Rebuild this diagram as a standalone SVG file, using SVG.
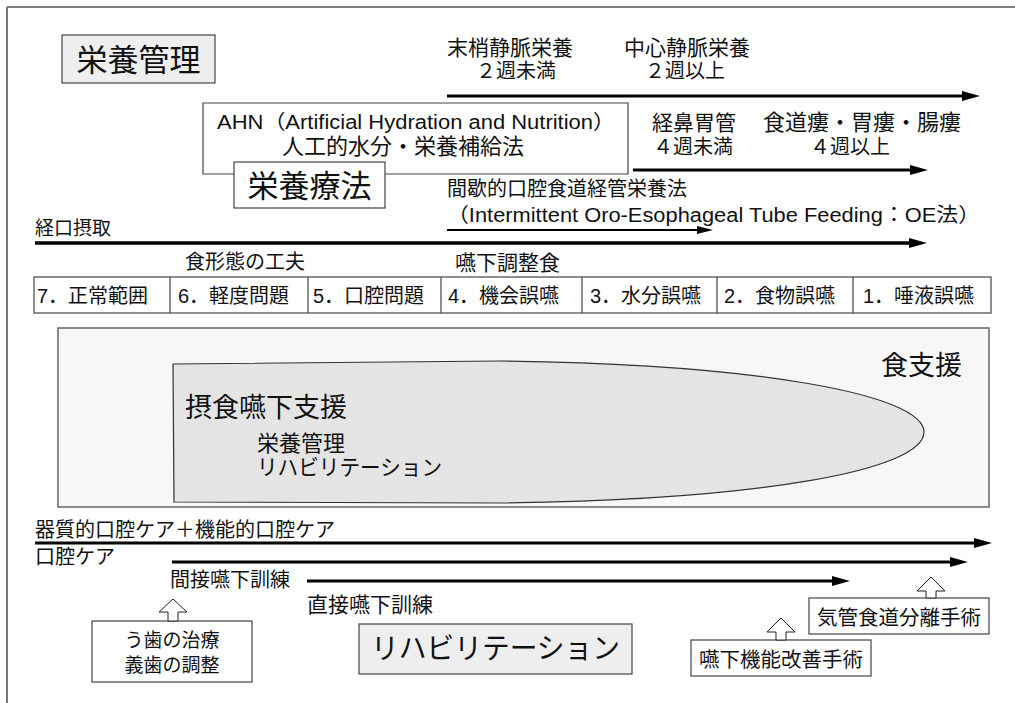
<svg xmlns="http://www.w3.org/2000/svg" width="1015" height="703" viewBox="0 0 1015 703">
<style>
text{font-family:"Liberation Sans","Noto Sans CJK JP",sans-serif;fill:#111;dominant-baseline:central}
.s20{font-size:20px}
.s21{font-size:21px}
.s22{font-size:22px}
.big{font-size:31px}
.mid{font-size:27px}
.box{fill:#fff;stroke:#444;stroke-width:1.2}
.gbox{fill:#eeeeee;stroke:#444;stroke-width:1.2}
.ln{stroke:#000;stroke-width:3;fill:none}
.ln2{stroke:#000;stroke-width:2;fill:none}
.up{fill:#fff;stroke:#222;stroke-width:1}
.mid-a{text-anchor:middle}
</style>
<defs>
<marker id="ah" markerUnits="userSpaceOnUse" markerWidth="18" markerHeight="10" viewBox="0 0 18 10" refX="8" refY="5" orient="auto">
<path d="M0,0 L18,5 L0,10 Z" fill="#000"/>
</marker>
<marker id="ah2" markerUnits="userSpaceOnUse" markerWidth="16" markerHeight="8" viewBox="0 0 16 8" refX="7" refY="4" orient="auto">
<path d="M0,0 L16,4 L0,8 Z" fill="#000"/>
</marker>
</defs>
<rect width="1015" height="703" fill="#fff"/>
<!-- frame -->
<g id="frame">
<line x1="7" y1="7" x2="1015" y2="7" stroke="#000" stroke-width="1"/>
<line x1="7" y1="7" x2="7" y2="703" stroke="#777" stroke-width="2"/>
</g>

<g id="n-eiyoukanri">
<rect x="62" y="35" width="153" height="48" class="gbox"/>
<text x="138.5" y="60" class="big mid-a">栄養管理</text>
</g>

<g id="n-parenteral">
<text x="447" y="47" class="s21">末梢静脈栄養</text>
<text x="516" y="71" class="s20 mid-a">２週未満</text>
<text x="624" y="47" class="s21">中心静脈栄養</text>
<text x="685" y="71" class="s20 mid-a">２週以上</text>
</g>

<g id="n-ahn">
<path d="M234,174 L203,174 L203,103 L628,103 L628,174 L385,174" fill="#fff" stroke="#444" stroke-width="1.2"/>
<text x="217" y="122" class="s20" textLength="398" lengthAdjust="spacingAndGlyphs">AHN（Artificial Hydration and Nutrition）</text>
<text x="403" y="146" class="s22 mid-a">人工的水分・栄養補給法</text>
</g>

<g id="n-enteral">
<text x="652" y="122" class="s21">経鼻胃管</text>
<text x="693" y="147" class="s20 mid-a">４週未満</text>
<text x="763" y="122" class="s22">食道瘻・胃瘻・腸瘻</text>
<text x="850" y="147" class="s20 mid-a">４週以上</text>
</g>

<g id="n-eiyouryouhou">
<rect x="234" y="162" width="151" height="46" class="box"/>
<text x="309.5" y="186" class="big mid-a">栄養療法</text>
</g>

<g id="n-oe">
<text x="447" y="189" class="s20">間歇的口腔食道経管栄養法</text>
<text x="447" y="215" class="s20" textLength="533" lengthAdjust="spacingAndGlyphs">（Intermittent Oro-Esophageal Tube Feeding：OE法）</text>
</g>

<g id="n-keikou">
<text x="35" y="228" style="font-size:19px">経口摂取</text>
</g>

<g id="n-shokukeitai">
<text x="185" y="262" class="s20">食形態の工夫</text>
<text x="455" y="262" class="s21">嚥下調整食</text>
</g>

<g id="n-table">
<rect x="34" y="277" width="957" height="36" fill="#fff" stroke="#444" stroke-width="1.2"/>
<g stroke="#444" stroke-width="1.2">
<line x1="170" y1="277" x2="170" y2="313"/>
<line x1="308" y1="277" x2="308" y2="313"/>
<line x1="441" y1="277" x2="441" y2="313"/>
<line x1="582" y1="277" x2="582" y2="313"/>
<line x1="717" y1="277" x2="717" y2="313"/>
<line x1="853" y1="277" x2="853" y2="313"/>
</g>
<text x="37" y="296" class="s20">7．正常範囲</text>
<text x="178" y="296" class="s20">6．軽度問題</text>
<text x="313" y="296" class="s20">5．口腔問題</text>
<text x="448" y="296" class="s20">4．機会誤嚥</text>
<text x="590" y="296" class="s20">3．水分誤嚥</text>
<text x="724" y="296" class="s20">2．食物誤嚥</text>
<text x="863" y="296" class="s20">1．唾液誤嚥</text>
</g>

<g id="n-shokushien">
<rect x="58" y="328" width="931" height="179" fill="#f7f7f7" stroke="#666" stroke-width="1.5"/>
<text x="881" y="366" class="mid">食支援</text>
</g>

<g id="n-sesshoku">
<path d="M173,364 L500,361 C760,364 924,395 924,432 C924,470 760,500 500,503 L174,502 Z" fill="#e4e4e4" stroke="#333" stroke-width="1.2"/>
<text x="185" y="408" class="mid">摂食嚥下支援</text>
<text x="257" y="443" class="s22">栄養管理</text>
<text x="257" y="467" class="s22" textLength="185" lengthAdjust="spacingAndGlyphs">リハビリテーション</text>
</g>

<g id="n-oralcare">
<text x="35" y="530" class="s20">器質的口腔ケア＋機能的口腔ケア</text>
<text x="35" y="557" class="s20">口腔ケア</text>
<text x="170" y="580" class="s20">間接嚥下訓練</text>
<text x="307" y="604" class="s21">直接嚥下訓練</text>
</g>

<g id="n-ushi">
<rect x="92" y="621" width="160" height="61" class="box"/>
<text x="172" y="640" class="mid-a" style="font-size:19px">う歯の治療</text>
<text x="172" y="665" class="mid-a" style="font-size:19px">義歯の調整</text>
</g>

<g id="n-rehab">
<rect x="359" y="624" width="273" height="50" class="gbox"/>
<text x="495.5" y="649" class="mid-a" style="font-size:29px" textLength="249" lengthAdjust="spacingAndGlyphs">リハビリテーション</text>
</g>

<g id="n-enge-surgery">
<rect x="691" y="640" width="180" height="36" class="box"/>
<text x="781" y="659" class="mid-a" style="font-size:20.5px">嚥下機能改善手術</text>
</g>

<g id="n-kikan-surgery">
<rect x="809" y="598" width="180" height="36" class="box"/>
<text x="899" y="617" class="mid-a" style="font-size:20.5px">気管食道分離手術</text>
</g>

<g id="connectors">
<line x1="447" y1="96" x2="970" y2="96" class="ln" marker-end="url(#ah)"/>
<line x1="633" y1="170" x2="918" y2="170" class="ln" marker-end="url(#ah)"/>
<line x1="447" y1="230" x2="704" y2="230" class="ln2" marker-end="url(#ah2)"/>
<line x1="35" y1="243" x2="917" y2="243" class="ln" style="stroke-width:3.5" marker-end="url(#ah)"/>
<line x1="35" y1="543" x2="982" y2="543" class="ln" marker-end="url(#ah)"/>
<line x1="172" y1="562" x2="958" y2="562" class="ln" marker-end="url(#ah)"/>
<line x1="307" y1="581" x2="840" y2="581" class="ln" marker-end="url(#ah)"/>
<polygon class="up" points="173,599 187,612 178,612 178,621 168,621 168,612 159,612"/>
<polygon class="up" points="781,618 795,632 786,632 786,640 776,640 776,632 767,632"/>
<polygon class="up" points="931,577 945,591 936,591 936,598 926,598 926,591 917,591"/>
</g>
</svg>
